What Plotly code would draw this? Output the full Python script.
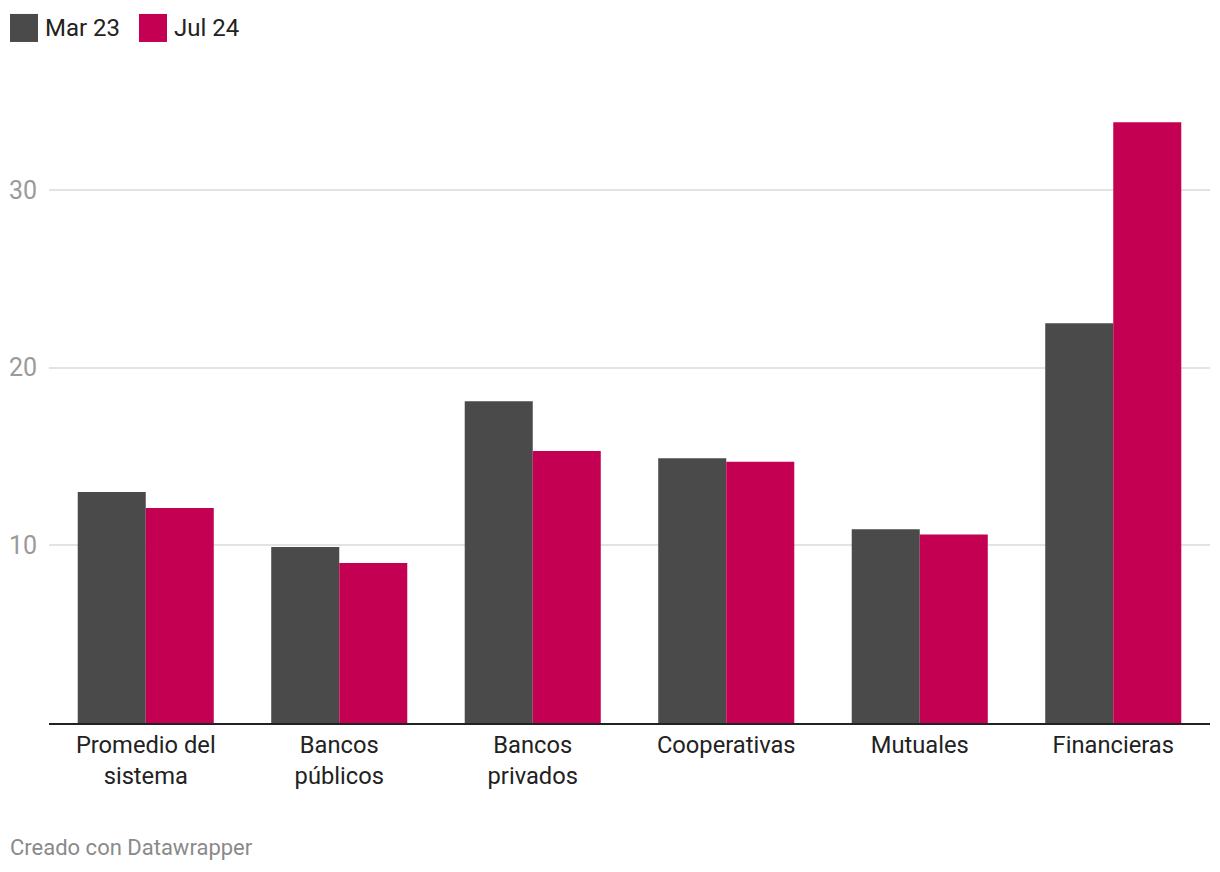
import plotly.graph_objects as go

categories = ["Promedio del<br>sistema", "Bancos<br>públicos", "Bancos<br>privados",
              "Cooperativas", "Mutuales", "Financieras"]
mar23 = [13.0, 9.9, 18.1, 14.9, 10.9, 22.5]
jul24 = [12.1, 9.0, 15.3, 14.7, 10.6, 33.8]
series_names = ["Mar 23", "Jul 24"]
colors = ["#4a4a4a", "#c30052"]
yticks = [10, 20, 30]

fig = go.Figure()
for name, vals, col in zip(series_names, [mar23, jul24], colors):
    fig.add_trace(go.Bar(x=categories, y=vals, name=name, marker_color=col,
                         marker_line_width=0, showlegend=False))

FONT = "Roboto"
OFF = 8  # page body margin
L, T = 49 - OFF, 101 - OFF
PB = 722.7 - OFF
PR = 1210 - OFF
W, H = 1220, 872
pw, ph = PR - L, PB - T

fig.update_layout(
    width=W, height=H,
    margin=dict(l=L, r=W - PR, t=T, b=H - PB, autoexpand=False),
    paper_bgcolor="white", plot_bgcolor="white",
    barmode="group", bargap=0.297, bargroupgap=0,
    font=dict(family=FONT, color="#222"),
    xaxis=dict(showline=True, linecolor="#222", linewidth=2, ticks="",
               tickfont=dict(size=23.7, color="#222", family=FONT),
               showgrid=False, fixedrange=True, automargin=False),
    yaxis=dict(range=[0, 35], tickvals=yticks, showgrid=True, gridcolor="#e3e3e3",
               gridwidth=1.5, zeroline=False, showline=False, ticks="",
               tickfont=dict(size=25, color="#9a9a9a", family=FONT), ticklabelstandoff=11,
               automargin=False),
)


def px(x):
    return (x - OFF - L) / pw


def py(y):
    return (PB - (y - OFF)) / ph


# manual legend
lx = 10
for name, col in zip(series_names, colors):
    fig.add_shape(type="rect", xref="paper", yref="paper",
                  x0=px(lx), x1=px(lx + 28), y0=py(42), y1=py(14),
                  fillcolor=col, line_width=0)
    fig.add_annotation(xref="paper", yref="paper", x=px(lx + 33), y=py(28), text=name,
                       showarrow=False, xanchor="left", yanchor="middle",
                       font=dict(size=24, color="#222", family=FONT))
    lx += 129

fig.add_annotation(xref="paper", yref="paper", x=px(8), y=py(847),
                   text="Creado con Datawrapper", showarrow=False, xanchor="left",
                   yanchor="middle", font=dict(size=22, color="#8a8a8a", family=FONT))

fig.write_html("out.html")
